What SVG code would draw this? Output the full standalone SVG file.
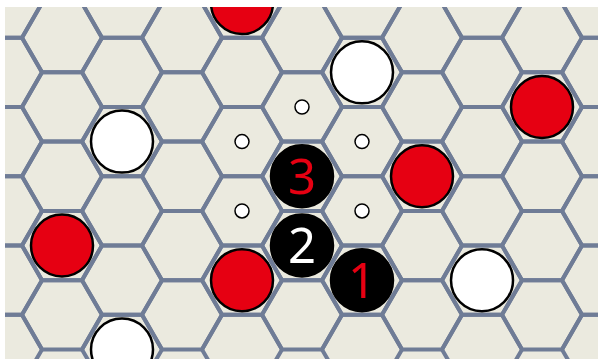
<svg xmlns="http://www.w3.org/2000/svg" xmlns:xlink="http://www.w3.org/1999/xlink" width="598" height="359" viewBox="0 0 598 359">
<style>
.grid use{fill:none;stroke:#6F7C96;stroke-width:4;stroke-linejoin:miter}
.red{fill:#E60012;stroke:#000;stroke-width:2.5}
.white{fill:#fff;stroke:#000;stroke-width:2.5}
.black{fill:#000;stroke:#000;stroke-width:2.5}
.dot{fill:#fff;stroke:#000;stroke-width:1.5}
.num{font-family:"Noto Sans","Open Sans",sans-serif;font-size:49px;text-anchor:middle}
</style>
<defs>
<polygon id="h" points="40,0 20,34.64 -20,34.64 -40,0 -20,-34.64 20,-34.64"/>
<clipPath id="c"><rect x="5" y="7" width="593" height="352"/></clipPath>
</defs>
<rect width="598" height="359" fill="#fff"/>
<rect x="5" y="7" width="593" height="352" fill="#EBEADF"/>
<g id="connectors" class="grid" clip-path="url(#c)">
<use href="#h" x="2" y="3.06"/><use href="#h" x="2" y="72.34"/><use href="#h" x="2" y="141.62"/><use href="#h" x="2" y="210.9"/><use href="#h" x="2" y="280.18"/><use href="#h" x="2" y="349.46"/>
<use href="#h" x="122" y="3.06"/><use href="#h" x="122" y="72.34"/><use href="#h" x="122" y="141.62"/><use href="#h" x="122" y="210.9"/><use href="#h" x="122" y="280.18"/><use href="#h" x="122" y="349.46"/>
<use href="#h" x="242" y="3.06"/><use href="#h" x="242" y="72.34"/><use href="#h" x="242" y="141.62"/><use href="#h" x="242" y="210.9"/><use href="#h" x="242" y="280.18"/><use href="#h" x="242" y="349.46"/>
<use href="#h" x="362" y="3.06"/><use href="#h" x="362" y="72.34"/><use href="#h" x="362" y="141.62"/><use href="#h" x="362" y="210.9"/><use href="#h" x="362" y="280.18"/><use href="#h" x="362" y="349.46"/>
<use href="#h" x="482" y="3.06"/><use href="#h" x="482" y="72.34"/><use href="#h" x="482" y="141.62"/><use href="#h" x="482" y="210.9"/><use href="#h" x="482" y="280.18"/><use href="#h" x="482" y="349.46"/>
<use href="#h" x="602" y="3.06"/><use href="#h" x="602" y="72.34"/><use href="#h" x="602" y="141.62"/><use href="#h" x="602" y="210.9"/><use href="#h" x="602" y="280.18"/><use href="#h" x="602" y="349.46"/>
<use href="#h" x="62" y="37.7"/><use href="#h" x="62" y="106.98"/><use href="#h" x="62" y="176.26"/><use href="#h" x="62" y="245.54"/><use href="#h" x="62" y="314.82"/>
<use href="#h" x="182" y="37.7"/><use href="#h" x="182" y="106.98"/><use href="#h" x="182" y="176.26"/><use href="#h" x="182" y="245.54"/><use href="#h" x="182" y="314.82"/>
<use href="#h" x="302" y="37.7"/><use href="#h" x="302" y="106.98"/><use href="#h" x="302" y="176.26"/><use href="#h" x="302" y="245.54"/><use href="#h" x="302" y="314.82"/>
<use href="#h" x="422" y="37.7"/><use href="#h" x="422" y="106.98"/><use href="#h" x="422" y="176.26"/><use href="#h" x="422" y="245.54"/><use href="#h" x="422" y="314.82"/>
<use href="#h" x="542" y="37.7"/><use href="#h" x="542" y="106.98"/><use href="#h" x="542" y="176.26"/><use href="#h" x="542" y="245.54"/><use href="#h" x="542" y="314.82"/>
</g>
<g clip-path="url(#c)">
<g id="red-top"><circle class="red" cx="242" cy="3.06" r="31"/></g>
<g id="white-a"><circle class="white" cx="362" cy="72.34" r="31"/></g>
<g id="red-right"><circle class="red" cx="542" cy="106.98" r="31"/></g>
<g id="white-left"><circle class="white" cx="122" cy="141.62" r="31"/></g>
<g id="red-mid"><circle class="red" cx="422" cy="176.26" r="31"/></g>
<g id="red-left"><circle class="red" cx="62" cy="245.54" r="31"/></g>
<g id="red-low"><circle class="red" cx="242" cy="280.18" r="31"/></g>
<g id="white-right"><circle class="white" cx="482" cy="280.18" r="31"/></g>
<g id="white-bottom"><circle class="white" cx="122" cy="349.46" r="31"/></g>
<g id="dot1"><circle class="dot" cx="302" cy="106.98" r="7"/></g>
<g id="dot2"><circle class="dot" cx="242" cy="141.62" r="7"/></g>
<g id="dot3"><circle class="dot" cx="362" cy="141.62" r="7"/></g>
<g id="dot4"><circle class="dot" cx="242" cy="210.9" r="7"/></g>
<g id="dot5"><circle class="dot" cx="362" cy="210.9" r="7"/></g>
<g id="stone3"><circle class="black" cx="302" cy="176.26" r="31"/><text class="num" x="302" y="193.8" fill="#E60012">3</text></g>
<g id="stone2"><circle class="black" cx="302" cy="245.54" r="31"/><text class="num" x="302" y="263" fill="#fff">2</text></g>
<g id="stone1"><circle class="black" cx="362" cy="280.18" r="31"/><text class="num" x="362" y="297.7" fill="#E60012">1</text></g>
</g>
</svg>
